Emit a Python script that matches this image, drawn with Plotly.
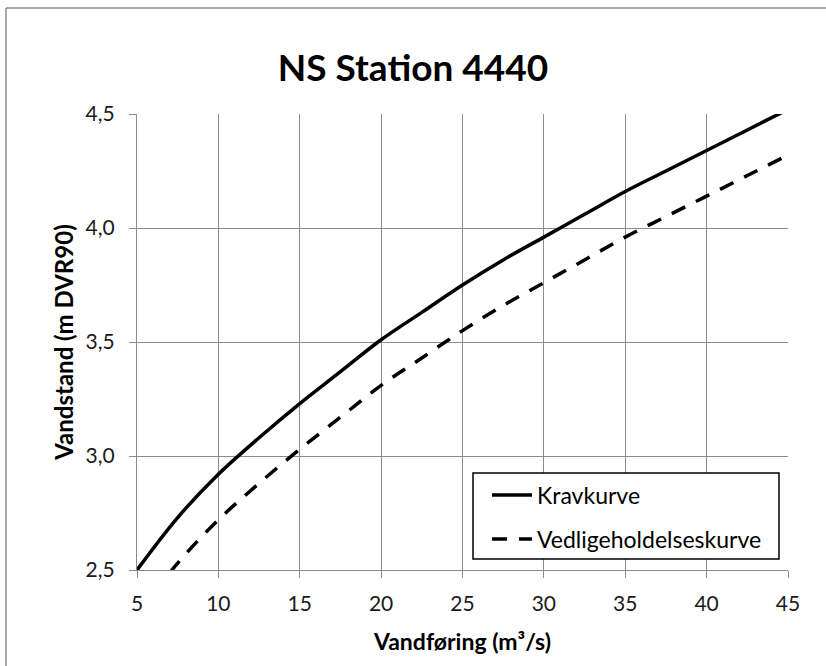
import plotly.graph_objects as go

# Data
flow = [5, 7.5, 10, 12.5, 15, 17.5, 20, 22.5, 25, 27.5, 30, 32.5, 35, 37.5, 40, 42.5, 45]
kravkurve = [2.50, 2.73, 2.92, 3.08, 3.23, 3.37, 3.51, 3.63, 3.75, 3.86, 3.96, 4.06, 4.16, 4.25, 4.34, 4.43, 4.52]
vedligehold = [2.30, 2.53, 2.72, 2.88, 3.03, 3.17, 3.31, 3.43, 3.55, 3.66, 3.76, 3.86, 3.96, 4.05, 4.14, 4.23, 4.32]

x_ticks = [5, 10, 15, 20, 25, 30, 35, 40, 45]
y_ticks = [2.5, 3.0, 3.5, 4.0, 4.5]

title_text = "NS Station 4440"
x_title = "Vandføring (m³/s)"
y_title = "Vandstand (m DVR90)"

FONT = "Lato"
GRID = "#8c8c8c"

fig = go.Figure()
fig.add_trace(go.Scatter(
    x=flow, y=kravkurve, mode="lines", name="Kravkurve", legend="legend",
    line=dict(color="black", width=3.5, shape="spline"),
))
fig.add_trace(go.Scatter(
    x=flow, y=vedligehold, mode="lines", name="Vedligeholdelseskurve", legend="legend2",
    line=dict(color="black", width=3.5, dash="15px,12px", shape="spline"),
))

L, R, T, B = 137, 38, 114, 96
W, H = 826, 666
pw, ph = W - L - R, H - T - B

def px2paper_x(px):
    return (px - L) / pw

def px2paper_y(py):
    return (H - B - py) / ph

# outer chart border (Excel style): only left and top edges are visible
border = dict(color="#8c8c8c", width=1.5)
fig.add_shape(type="line", xref="paper", yref="paper",
              x0=px2paper_x(6), x1=px2paper_x(6), y0=px2paper_y(H + 5), y1=px2paper_y(8),
              line=border, layer="below")
fig.add_shape(type="line", xref="paper", yref="paper",
              x0=px2paper_x(6), x1=px2paper_x(W + 5), y0=px2paper_y(8), y1=px2paper_y(8),
              line=border, layer="below")
# legend box
fig.add_shape(type="rect", xref="paper", yref="paper",
              x0=px2paper_x(473), x1=px2paper_x(779), y0=px2paper_y(559), y1=px2paper_y(473),
              line=dict(color="black", width=1.5), fillcolor="white", layer="above")

leg_common = dict(xanchor="left", yanchor="middle", bgcolor="rgba(0,0,0,0)", borderwidth=0,
                  font=dict(family=FONT, size=23, color="black"), itemwidth=40)

fig.update_layout(
    width=W, height=H,
    margin=dict(l=L, r=R, t=T, b=B),
    paper_bgcolor="white", plot_bgcolor="white",
    separators=", ",
    font=dict(family=FONT, size=21, color="#1a1a1a"),
    title=dict(text="<b>" + title_text + "</b>", x=0.5, xanchor="center",
               y=1 - 68 / H, yanchor="middle", yref="container",
               font=dict(family=FONT, size=37, color="black")),
    showlegend=True,
    legend=dict(x=px2paper_x(487), y=px2paper_y(495), **leg_common),
    legend2=dict(x=px2paper_x(487), y=px2paper_y(539), **leg_common),
    xaxis=dict(range=[5, 45], tickvals=x_ticks, ticktext=[str(v) for v in x_ticks],
               showgrid=True, gridcolor=GRID, gridwidth=1.3,
               showline=True, linecolor=GRID, linewidth=1.3,
               ticks="outside", ticklen=7, tickcolor=GRID, tickwidth=1.3,
               ticklabelstandoff=8,
               zeroline=False,
               title=dict(text="<b>" + x_title + "</b>", standoff=19,
                          font=dict(family=FONT, size=23, color="black"))),
    yaxis=dict(range=[2.5, 4.5], tickvals=y_ticks, tickformat=".1f",
               showgrid=True, gridcolor=GRID, gridwidth=1.3,
               showline=True, linecolor=GRID, linewidth=1.3,
               ticks="outside", ticklen=7, tickcolor=GRID, tickwidth=1.3,
               ticklabelstandoff=10,
               zeroline=False,
               title=dict(text="<b>" + y_title + "</b>", standoff=5,
                          font=dict(family=FONT, size=24, color="black"))),
)

fig.write_html("out.html", config={"displayModeBar": False},
               post_script="document.body.style.margin='0';"
                           "document.body.style.overflow='hidden';"
                           "document.documentElement.style.overflow='hidden';")
